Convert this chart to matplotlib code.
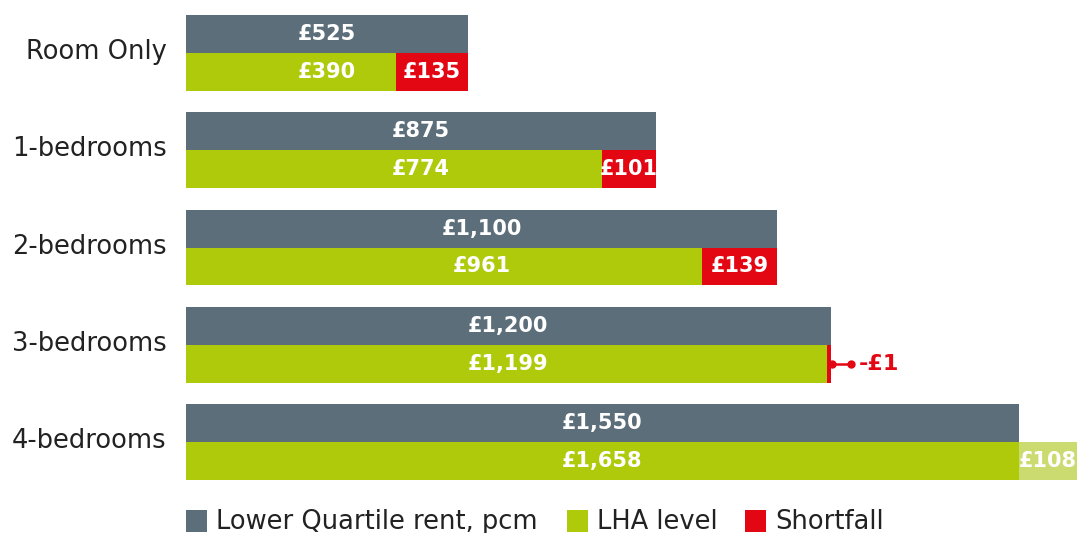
import matplotlib
matplotlib.use("Agg")
import matplotlib.pyplot as plt
from matplotlib.patches import Rectangle
from matplotlib.transforms import ScaledTranslation
import numpy as np

categories = ["Room Only", "1-bedrooms", "2-bedrooms", "3-bedrooms", "4-bedrooms"]
rent = [525, 875, 1100, 1200, 1550]
lha = [390, 774, 961, 1199, 1658]
legend_labels = ["Lower Quartile rent, pcm", "LHA level", "Shortfall"]

GREY = "#5b6e7a"
GREEN = "#afca0b"
RED = "#e30613"
LIGHT = "#cbdb70"
TXT = "#222222"
FONT = "DejaVu Sans"

plt.rcParams["font.family"] = [FONT]

W, H = 1077, 533
fig = plt.figure(figsize=(W / 100, H / 100), dpi=100)
ax = fig.add_axes([186 / W, 1 - 480 / H, 1 - 186 / W, 465 / H])

h = 0.39
y = np.arange(len(categories))
rent_a = np.array(rent, dtype=float)
lha_a = np.array(lha, dtype=float)
base = np.minimum(rent_a, lha_a)
short = rent_a - lha_a

ax.barh(y - h / 2, rent_a, height=h, color=GREY, linewidth=0)
ax.barh(y + h / 2, base, height=h, color=GREEN, linewidth=0)

lab_kw = dict(color="white", fontsize=15, fontweight="bold", ha="center", va="center")
for i in range(len(categories)):
    ax.text(rent_a[i] / 2, y[i] - h / 2, f"£{rent[i]:,}", **lab_kw)
    ax.text(rent_a[i] / 2, y[i] + h / 2, f"£{lha[i]:,}", **lab_kw)
    s = short[i]
    if s > 0:
        ax.barh(y[i] + h / 2, s, left=lha_a[i], height=h, color=RED, linewidth=0)
        if s >= 50:
            ax.text(lha_a[i] + s / 2, y[i] + h / 2, f"£{int(s):,}", **lab_kw)
        else:
            xe = rent_a[i]
            ax.barh(y[i] + h / 2, 8, left=xe - 8, height=h, color=RED, linewidth=0)
            ax.plot([xe, xe + 38], [y[i] + h / 2] * 2, color=RED, lw=1.8,
                    solid_capstyle="butt")
            ax.plot([xe + 3, xe + 38], [y[i] + h / 2] * 2, "o", color=RED, ms=5)
            ax.text(xe + 52, y[i] + h / 2, f"-£{int(s):,}", color=RED, fontsize=16,
                    fontweight="bold", ha="left", va="center")
    elif s < 0:
        ax.barh(y[i] + h / 2, -s, left=rent_a[i], height=h, color=LIGHT, linewidth=0)
        ax.text(rent_a[i] - s / 2, y[i] + h / 2, f"£{int(-s):,}", **lab_kw)

ax.set_xlim(0, max(lha_a.max(), rent_a.max()))
ax.set_ylim(len(categories) - 1 + h, -h)
ax.set_yticks(y)
ax.set_yticklabels(categories, fontsize=18.5, color=TXT)
ax.tick_params(axis="y", length=0, pad=14)
for lbl in ax.get_yticklabels():
    lbl.set_transform(lbl.get_transform() + ScaledTranslation(0, 4 / 100, fig.dpi_scale_trans))
ax.set_xticks([])
for sp in ax.spines.values():
    sp.set_visible(False)
ax.patch.set_alpha(0)

# legend (manual layout)
leg_colors = [GREY, GREEN, RED]
sq_x = [186, 567, 745]
for c, x0, txt in zip(leg_colors, sq_x, legend_labels):
    fig.add_artist(Rectangle((x0 / W, 1 - 532 / H), 21 / W, 22 / H,
                             transform=fig.transFigure, color=c, linewidth=0))
    fig.text((x0 + 30) / W, 1 - 522 / H, txt, fontsize=18.5, color=TXT,
             ha="left", va="center")

fig.savefig("out.png", dpi=100)
